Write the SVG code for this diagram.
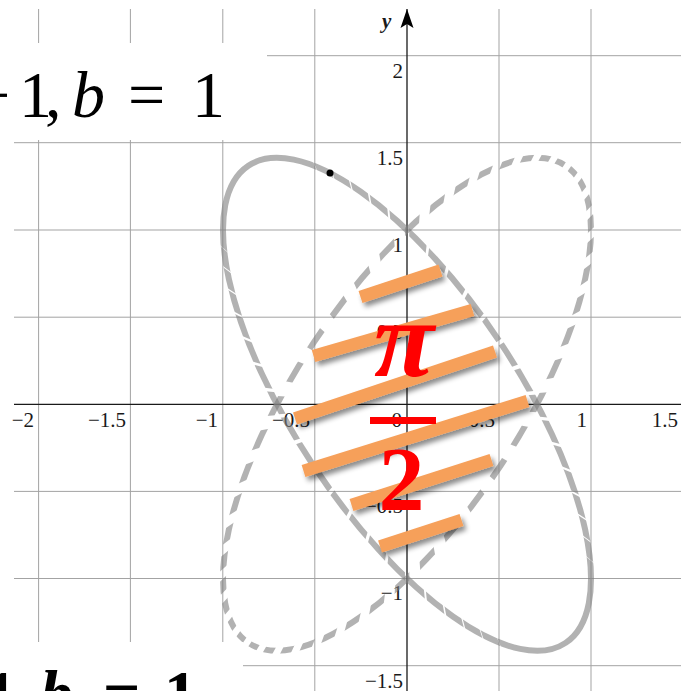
<svg xmlns="http://www.w3.org/2000/svg" width="681" height="691" viewBox="0 0 681 691">
<style>
.grid line{stroke:#a3a3a3;stroke-width:1}
.ax{stroke:#1a1a1a;stroke-width:1.3;fill:none}
.lbl{font-family:"Liberation Serif","Times New Roman",serif;font-size:21px;fill:#1a1a1a}
.xl{text-anchor:end}
.curve{fill:none;stroke:#7f7f7f;stroke-opacity:0.6;stroke-width:6}
.hl line{stroke:#F6A05A;stroke-width:12.5;stroke-linecap:butt}
.red{fill:#ff0000;font-family:"Liberation Serif","Times New Roman",serif;font-weight:bold;text-anchor:middle}
.eq{font-family:"Liberation Serif","Times New Roman",serif;font-size:66px;fill:#000}
</style>
<defs>
<filter id="sh" x="-20%" y="-30%" width="140%" height="160%">
<feDropShadow dx="3" dy="4" stdDeviation="2.5" flood-color="#000" flood-opacity="0.45"/>
</filter>
<mask id="mS" maskUnits="userSpaceOnUse" x="0" y="0" width="681" height="691">
<circle cx="0" cy="0" r="1" transform="matrix(184 174.3 0 -174.3 407 404.3)" fill="none" stroke="#fff" stroke-width="0.25" stroke-dasharray="0.1016 0.0031 0.0987 0.0060 0.0963 0.0084 0.0945 0.0102 0.0930 0.0117 0.0919 0.0128 0.0910 0.0137 0.0904 0.0143 0.0900 0.0147 0.0899 0.0148 0.0899 0.0148 0.0901 0.0146 0.0905 0.0142 0.0911 0.0136 0.0920 0.0127 0.0932 0.0115 0.0947 0.0100 0.0966 0.0081 0.0991 0.0056 0.1021 0.0026 1.0472 0"/>
</mask>
<mask id="mD" maskUnits="userSpaceOnUse" x="0" y="0" width="681" height="691">
<circle cx="0" cy="0" r="1" transform="matrix(184 -174.3 0 -174.3 407 404.3)" fill="none" stroke="#fff" stroke-width="0.25" stroke-dasharray="0.079 0.0576"/>
</mask>
<marker id="arr" viewBox="-20 -7 21 14" refX="0" refY="0" markerWidth="21" markerHeight="14" markerUnits="userSpaceOnUse" orient="auto">
<path d="M0,0 L-19,-6.5 L-15,0 L-19,6.5 Z" fill="#000"/>
</marker>
</defs>

<g id="grid" class="grid">
<line x1="38.6" y1="9" x2="38.6" y2="691"/>
<line x1="130.4" y1="9" x2="130.4" y2="691"/>
<line x1="222.8" y1="9" x2="222.8" y2="691"/>
<line x1="314.8" y1="9" x2="314.8" y2="691"/>
<line x1="499" y1="9" x2="499" y2="691"/>
<line x1="591" y1="9" x2="591" y2="691"/>
<line x1="14" y1="55.7" x2="681" y2="55.7"/>
<line x1="14" y1="142.7" x2="681" y2="142.7"/>
<line x1="14" y1="230" x2="681" y2="230"/>
<line x1="14" y1="317.2" x2="681" y2="317.2"/>
<line x1="14" y1="491.4" x2="681" y2="491.4"/>
<line x1="14" y1="578.5" x2="681" y2="578.5"/>
<line x1="14" y1="665.7" x2="681" y2="665.7"/>
</g>

<g id="axes">
<line class="ax" x1="14" y1="404.3" x2="681" y2="404.3"/>
<line class="ax" x1="407" y1="691" x2="407" y2="9" marker-end="url(#arr)"/>
<text class="lbl" x="382" y="28" font-style="italic" font-weight="bold" font-size="20">y</text>
</g>

<g id="tick-labels" class="lbl">
<text class="xl" x="34" y="427">−2</text>
<text class="xl" x="126" y="427">−1.5</text>
<text class="xl" x="218" y="427">−1</text>
<text class="xl" x="310" y="427">−0.5</text>
<text class="xl" x="402" y="427">0</text>
<text class="xl" x="495" y="427">0.5</text>
<text class="xl" x="587" y="427">1</text>
<text class="xl" x="678" y="427">1.5</text>
<text class="xl" x="403" y="78">2</text>
<text class="xl" x="403" y="165">1.5</text>
<text class="xl" x="403" y="252">1</text>
<text class="xl" x="403" y="339">0.5</text>
<text class="xl" x="403" y="513">−0.5</text>
<text class="xl" x="403" y="600">−1</text>
<text class="xl" x="403" y="688">−1.5</text>
</g>

<g id="ellipse-solid" mask="url(#mS)">
<ellipse class="curve" cx="407" cy="404.3" rx="286.5" ry="111.9" transform="rotate(56.38 407 404.3)"/>
</g>
<g id="ellipse-dashed" mask="url(#mD)">
<ellipse class="curve" cx="407" cy="404.3" rx="286.5" ry="111.9" transform="rotate(-56.38 407 404.3)"/>
</g>
<g id="point">
<circle cx="330" cy="173" r="3.5" fill="#000"/>
</g>

<g id="highlights" class="hl" filter="url(#sh)">
<line x1="360.5" y1="297" x2="440.5" y2="270.5"/>
<line x1="313.5" y1="356" x2="472.5" y2="310"/>
<line x1="295" y1="418.5" x2="495" y2="351.5"/>
<line x1="303.5" y1="471" x2="527.5" y2="401"/>
<line x1="351.5" y1="505" x2="491.5" y2="460"/>
<line x1="380" y1="546.5" x2="461.5" y2="520"/>
</g>

<g id="fraction">
<text class="red" x="404" y="376" font-size="110" font-style="italic">π</text>
<rect x="370" y="417" width="66" height="7" fill="#ff0000"/>
<text class="red" x="401.5" y="510" font-size="92">2</text>
</g>

<g id="label-top">
<rect x="0" y="43" width="267" height="97" fill="#fff"/>
<text class="eq" y="117"><tspan x="-27">−</tspan><tspan x="19">1</tspan><tspan x="45">,</tspan><tspan x="72" font-style="italic">b</tspan><tspan x="128">=</tspan><tspan x="192">1</tspan></text>
</g>

<g id="label-bottom">
<rect x="0" y="642" width="243" height="49" fill="#fff"/>
<text class="eq" y="716" font-weight="bold"><tspan x="-16">1</tspan><tspan x="12">,</tspan><tspan x="40" font-style="italic">b</tspan><tspan x="103">=</tspan><tspan x="164">1</tspan></text>
</g>
</svg>
